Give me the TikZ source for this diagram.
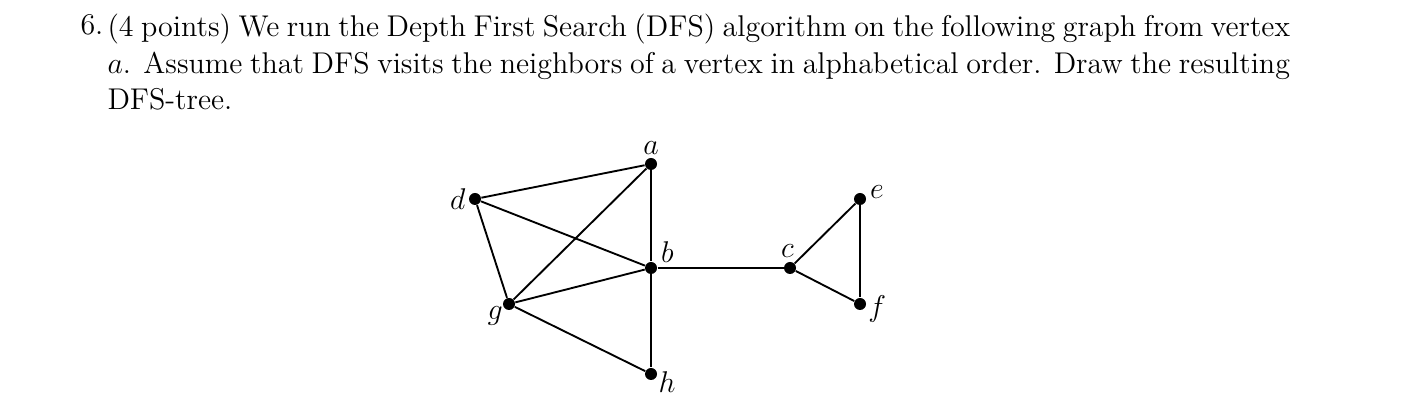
\documentclass[tikz,border=0pt]{standalone}
\usetikzlibrary{positioning}

\tikzset{
  vertex/.style={circle,fill=black,inner sep=0pt,minimum size=4.8pt},
  edge/.style={line width=0.75pt},
  every label/.style={inner sep=1pt},
}

\begin{document}
\begin{tikzpicture}[x=0.4pt,y=0.4pt,font=\fontsize{12}{14.5}\selectfont]
  \useasboundingbox (0,0) rectangle (1410,-410);
  % question
  \node[anchor=north west,inner sep=0pt,text width=473pt,align=justify] (question) at (107,-14)
    {(4 points) We run the Depth First Search (DFS) algorithm on the following graph from vertex\linebreak
     $a$. Assume that DFS visits the neighbors of a vertex in alphabetical order. Draw the resulting\linebreak
     DFS-tree.};
  \node[anchor=base west,inner sep=0pt] (num) at (80,-35) {6.};
  % vertices
  \node[vertex,label={above:$a$}] (a) at (651,-164) {};
  \node[vertex,label={left:$d$}] (d) at (475,-199) {};
  \node[vertex,label={[xshift=1pt,yshift=-1pt]above right:$b$}] (b) at (651,-268) {};
  \node[vertex,label={[xshift=-1pt,yshift=0.5pt]above:$c$}] (c) at (790,-268) {};
  \node[vertex,label={[xshift=1pt,yshift=-3pt]above right:$e$}] (e) at (860,-199) {};
  \node[vertex,label={[xshift=-0.5pt,yshift=-2pt]right:$f$}] (f) at (860,-304) {};
  \node[vertex,label={[xshift=0.5pt,yshift=2pt]below left:$g$}] (g) at (509,-304) {};
  \node[vertex,label={[yshift=4pt]below right:$h$}] (h) at (651,-374) {};
  % edges
  \draw[edge] (d) -- (a);
  \draw[edge] (a) -- (g);
  \draw[edge] (a) -- (b);
  \draw[edge] (d) -- (b);
  \draw[edge] (d) -- (g);
  \draw[edge] (g) -- (b);
  \draw[edge] (g) -- (h);
  \draw[edge] (b) -- (h);
  \draw[edge] (b) -- (c);
  \draw[edge] (c) -- (e);
  \draw[edge] (c) -- (f);
  \draw[edge] (e) -- (f);
\end{tikzpicture}
\end{document}
